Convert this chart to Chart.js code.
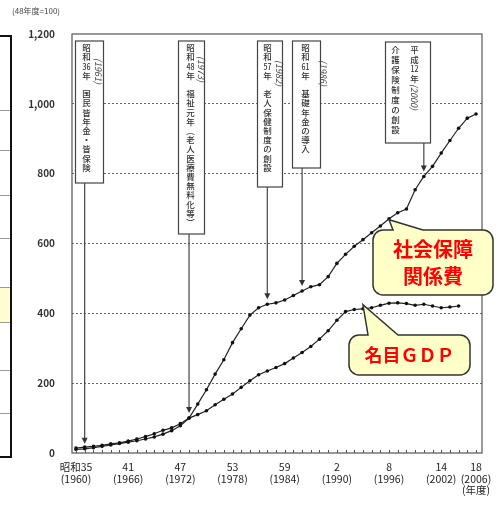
<!DOCTYPE html>
<html lang="ja">
<head>
<meta charset="utf-8">
<title>社会保障関係費と名目GDPの推移</title>
<script src="https://cdn.jsdelivr.net/npm/chart.js@4.4.1/dist/chart.umd.min.js"></script>
<style>
  html, body { margin: 0; padding: 0; background: #fff; }
  #wrap { position: relative; width: 504px; height: 506px; }
</style>
</head>
<body>
<div id="wrap"><canvas id="chart"></canvas></div>
<script>
// fiscal years, 昭和35年度 (1960) to 平成18年度 (2006)
const years = [1960, 1961, 1962, 1963, 1964, 1965, 1966, 1967, 1968, 1969,
               1970, 1971, 1972, 1973, 1974, 1975, 1976, 1977, 1978, 1979,
               1980, 1981, 1982, 1983, 1984, 1985, 1986, 1987, 1988, 1989,
               1990, 1991, 1992, 1993, 1994, 1995, 1996, 1997, 1998, 1999,
               2000, 2001, 2002, 2003, 2004, 2005, 2006];

// index, 昭和48年度 = 100
const socialSecurity = [10, 12, 15, 19, 23, 27, 31, 35, 40, 46,
                        54, 64, 78, 100, 140, 181, 226, 267, 316, 356,
                        395, 416, 426, 430, 438, 451, 464, 476, 482, 505,
                        543, 569, 592, 611, 631, 650, 671, 688, 699, 754,
                        792, 821, 859, 895, 930, 959, 971];

// nominal GDP stops at 2004
const nominalGdp = [14, 17, 19, 22, 26, 29, 34, 40, 47, 55,
                    65, 72, 84, 100, 110, 121, 138, 154, 169, 188,
                    207, 224, 235, 245, 256, 272, 288, 305, 326, 350,
                    380, 405, 411, 413, 416, 423, 429, 430, 428, 423,
                    426, 421, 416, 418, 421];

const tickYears = [1960, 1966, 1972, 1978, 1984, 1990, 1996, 2002, 2006];
const tickEra = ['昭和35', '41', '47', '53', '59', '2', '8', '14', '18'];
const tickWestern = ['(1960)', '(1966)', '(1972)', '(1978)', '(1984)', '(1990)', '(1996)', '(2002)', '(2006)'];

const eventYears = [1961, 1973, 1982, 1986, 2000];
const eventEra = ['昭和36年', '昭和48年', '昭和57年', '昭和61年', '平成12年'];
const eventTexts = ['国民皆年金・皆保険', '福祉元年（老人医療費無料化等）', '老人保健制度の創設', '基礎年金の導入', '介護保険制度の創設'];
const eventHand = ['(1961)', '(1973)', '(1982)', '(1986)', '(2000)'];

const FONT = "'Noto Sans CJK JP', 'Noto Sans', sans-serif";

// box geometry around each arrow (pixels)
const boxLayout = [
    { dl: -10, dr: 18, top: 41, bottom: 183, col: 11, hand: [23, 58] },
    { dl: -11, dr: 15, top: 41, bottom: 234, col: 12, hand: [23, 56] },
    { dl: -10, dr: 15, top: 41, bottom: 187, col: 10, hand: [22, 60] },
    { dl: -10, dr: 18, top: 41, bottom: 168, col: 13, hand: [31, 60] },
    { dl: -39, dr: 6, top: 42, bottom: 143, col: 10, eraCol: 29, hand: [29, 84] }
];

const callouts = [
    { lines: ['社会保障', '関係費'], data: socialSecurity, year: 1996, dy: 1,
      rect: [373, 230, 120, 65], base: [393, 423], size: 20, lineGap: 27 },
    { lines: ['名目ＧＤＰ'], data: nominalGdp, year: 1993, dy: -4,
      rect: [349, 335, 121, 40], base: [368, 398], size: 18, lineGap: 0 }
];

function cells(str) {
    return str.match(/\d+|./g).map(c => c === '（' ? '︵' : c === '）' ? '︶' : c);
}

function drawColumn(ctx, str, x, y, step) {
    cells(str).forEach(c => {
        if (/\d/.test(c)) ctx.fillText(c, x, y, 8);
        else ctx.fillText(c, x, y);
        y += step;
    });
    return y;
}

function drawHand(ctx, text, x, y) {
    ctx.save();
    ctx.translate(x, y);
    ctx.rotate(Math.PI / 2);
    ctx.font = "italic 9px " + FONT;
    ctx.textAlign = 'left';
    ctx.fillText(text, 0, 0);
    ctx.restore();
}

function roundCallout(ctx, c, tipX, tipY) {
    const [x, y, w, h] = c.rect;
    const r = 10;
    ctx.beginPath();
    ctx.moveTo(x + r, y);
    ctx.lineTo(c.base[0], y);
    ctx.lineTo(tipX, tipY);
    ctx.lineTo(c.base[1], y);
    ctx.lineTo(x + w - r, y);
    ctx.arcTo(x + w, y, x + w, y + r, r);
    ctx.lineTo(x + w, y + h - r);
    ctx.arcTo(x + w, y + h, x + w - r, y + h, r);
    ctx.lineTo(x + r, y + h);
    ctx.arcTo(x, y + h, x, y + h - r, r);
    ctx.lineTo(x, y + r);
    ctx.arcTo(x, y, x + r, y, r);
    ctx.closePath();
}

const decorations = {
    id: 'decorations',
    afterDraw(chart) {
        const ctx = chart.ctx;
        const area = chart.chartArea;
        const xs = chart.scales.x;
        const ys = chart.scales.y;
        ctx.save();

        // plot frame
        ctx.strokeStyle = '#555';
        ctx.lineWidth = 1.2;
        ctx.strokeRect(area.left, area.top, area.right - area.left, area.bottom - area.top);

        // small year ticks on the bottom edge
        ctx.lineWidth = 1;
        years.forEach(yr => {
            const px = Math.round(xs.getPixelForValue(yr)) + 0.5;
            ctx.beginPath();
            ctx.moveTo(px, area.bottom);
            ctx.lineTo(px, area.bottom - 3);
            ctx.stroke();
        });

        // unit note
        ctx.fillStyle = '#444';
        ctx.font = "8px " + FONT;
        ctx.textAlign = 'left';
        ctx.textBaseline = 'middle';
        ctx.fillText('(48年度=100)', 12, 11);

        // edge of the neighbouring slide
        ctx.fillStyle = '#fffbd2';
        ctx.fillRect(0, 287, 11, 35);
        ctx.strokeStyle = '#999';
        ctx.lineWidth = 1;
        [110, 150, 195, 238, 287, 322, 370, 413].forEach(y => {
            ctx.beginPath();
            ctx.moveTo(0, y + 0.5);
            ctx.lineTo(11, y + 0.5);
            ctx.stroke();
        });
        ctx.strokeStyle = '#111';
        ctx.lineWidth = 2;
        ctx.strokeRect(-4, 36, 15, 421);

        // event boxes with arrows
        eventYears.forEach((yr, i) => {
            const b = boxLayout[i];
            const ax = xs.getPixelForValue(yr);
            const idx = years.indexOf(yr);
            const tipY = ys.getPixelForValue(socialSecurity[idx]) - 5;
            const left = Math.round(ax + b.dl) + 0.5;
            const right = Math.round(ax + b.dr) + 0.5;

            ctx.fillStyle = '#fff';
            ctx.fillRect(left, b.top, right - left, b.bottom - b.top);
            ctx.strokeStyle = '#444';
            ctx.lineWidth = 1.2;
            ctx.strokeRect(left, b.top, right - left, b.bottom - b.top);

            ctx.beginPath();
            ctx.moveTo(ax, b.bottom);
            ctx.lineTo(ax, tipY - 5);
            ctx.stroke();
            ctx.fillStyle = '#333';
            ctx.beginPath();
            ctx.moveTo(ax - 3, tipY - 6);
            ctx.lineTo(ax + 3, tipY - 6);
            ctx.lineTo(ax, tipY);
            ctx.closePath();
            ctx.fill();

            ctx.fillStyle = '#333';
            ctx.font = "500 8.5px " + FONT;
            ctx.textAlign = 'center';
            ctx.textBaseline = 'middle';
            if (b.eraCol) {
                drawColumn(ctx, eventTexts[i], left + b.col, b.top + 8, 10);
                drawColumn(ctx, eventEra[i], left + b.eraCol, b.top + 8, 9.5);
            } else {
                drawColumn(ctx, eventEra[i] + '　' + eventTexts[i], left + b.col, b.top + 7, 9.2);
            }
            ctx.fillStyle = '#444';
            drawHand(ctx, eventHand[i], left + b.hand[0], b.hand[1]);
        });

        // speech-bubble labels
        callouts.forEach(c => {
            const idx = years.indexOf(c.year);
            const tipX = xs.getPixelForValue(c.year);
            const tipY = ys.getPixelForValue(c.data[idx]) + c.dy;
            roundCallout(ctx, c, tipX, tipY);
            ctx.fillStyle = '#ffffc8';
            ctx.fill();
            ctx.strokeStyle = '#333';
            ctx.lineWidth = 1.5;
            ctx.stroke();

            const [x, y, w, h] = c.rect;
            ctx.fillStyle = '#ff0000';
            ctx.font = "bold " + c.size + "px " + FONT;
            ctx.textAlign = 'center';
            ctx.textBaseline = 'middle';
            const startY = y + h / 2 - (c.lines.length - 1) * c.lineGap / 2;
            c.lines.forEach((line, k) => ctx.fillText(line, x + w / 2, startY + k * c.lineGap));
        });

        ctx.restore();
    }
};

const ctx = document.getElementById('chart').getContext('2d');

new Chart(ctx, {
    type: 'line',
    data: {
        datasets: [
            {
                label: '社会保障関係費',
                data: years.map((yr, i) => ({ x: yr, y: socialSecurity[i] })),
                borderColor: '#222',
                backgroundColor: '#111',
                borderWidth: 1.2,
                pointRadius: 1.8,
                pointBorderWidth: 0,
                tension: 0
            },
            {
                label: '名目GDP',
                data: nominalGdp.map((v, i) => ({ x: years[i], y: v })),
                borderColor: '#222',
                backgroundColor: '#111',
                borderWidth: 1.2,
                pointRadius: 1.8,
                pointBorderWidth: 0,
                tension: 0
            }
        ]
    },
    options: {
        responsive: true,
        maintainAspectRatio: false,
        animation: false,
        layout: { padding: { top: 34, right: 22, left: 0, bottom: 0 } },
        plugins: {
            legend: { display: false },
            tooltip: { enabled: false }
        },
        scales: {
            x: {
                type: 'linear',
                min: 1959.54,
                max: 2006.69,
                afterBuildTicks: axis => { axis.ticks = tickYears.map(v => ({ value: v })); },
                afterFit: axis => { axis.height = 53; },
                grid: { display: false, drawTicks: false },
                border: { display: false },
                ticks: {
                    autoSkip: false,
                    maxRotation: 0,
                    padding: 9,
                    color: '#222',
                    font: { family: FONT, size: 10.5, lineHeight: 1.05 },
                    callback: function(value) {
                        const k = tickYears.indexOf(value);
                        if (k < 0) return '';
                        const lines = [tickEra[k], tickWestern[k]];
                        if (k === tickYears.length - 1) lines.push('(年度)');
                        return lines;
                    }
                }
            },
            y: {
                min: 0,
                max: 1200,
                afterFit: axis => { axis.width = 72; },
                grid: {
                    drawTicks: false,
                    lineWidth: 1,
                    color: c => (c.tick.value === 0 || c.tick.value === 1200) ? 'rgba(0,0,0,0)' : '#666'
                },
                border: { display: false, dash: [2, 2] },
                ticks: {
                    stepSize: 200,
                    padding: 17,
                    color: '#333',
                    font: { family: FONT, size: 10, weight: 'bold' },
                    callback: v => v.toLocaleString('en-US')
                }
            }
        }
    },
    plugins: [decorations]
});
</script>
</body>
</html>
